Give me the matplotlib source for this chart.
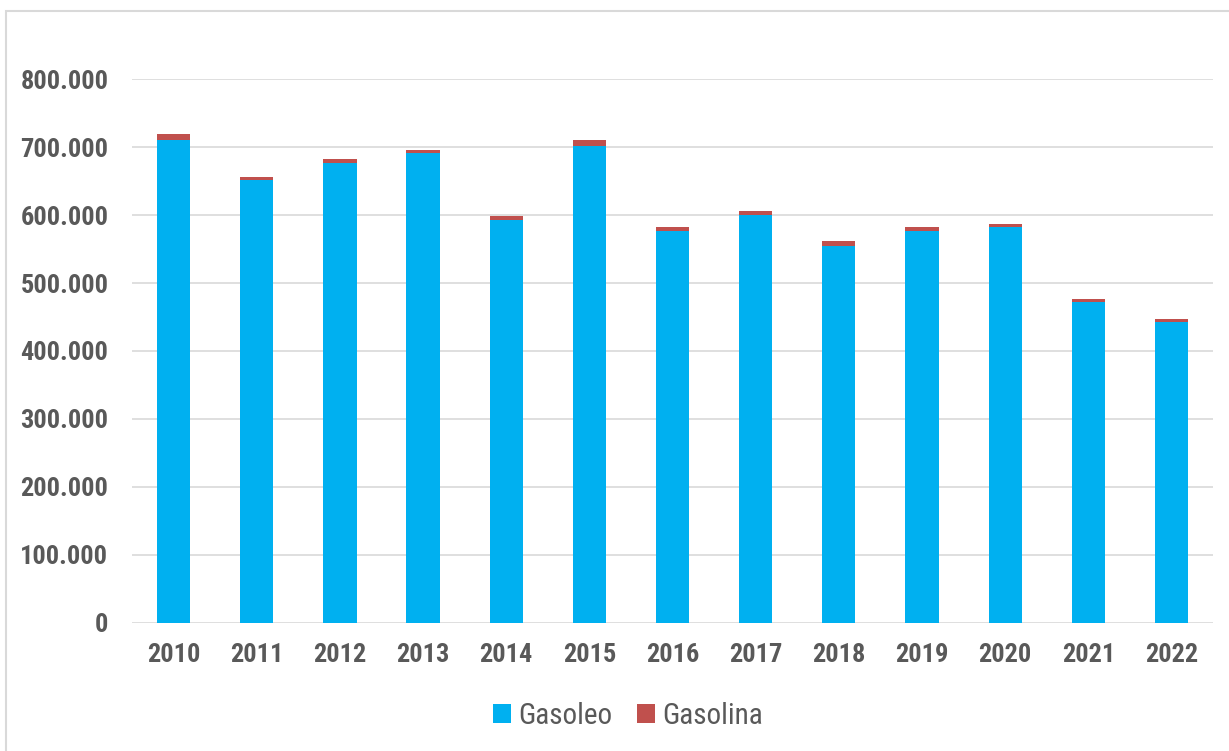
import numpy as np
import matplotlib
matplotlib.use('Agg')
import matplotlib.pyplot as plt
from matplotlib.patches import Rectangle
from matplotlib.ticker import FuncFormatter

years = ['2010', '2011', '2012', '2013', '2014', '2015', '2016',
         '2017', '2018', '2019', '2020', '2021', '2022']
gasoleo = [711000, 651000, 677000, 692000, 593000, 702000, 576000,
           600000, 555000, 577000, 583000, 472000, 443000]
gasolina = [8000, 4500, 6000, 3500, 5500, 8000, 6000,
            6000, 6500, 5500, 4000, 4000, 3500]

plt.rcParams['font.family'] = ['Roboto Condensed', 'Roboto', 'DejaVu Sans']
gray_txt = '#595959'

fig = plt.figure(figsize=(12.29, 7.51), dpi=100)
ax = fig.add_axes([0.1074, 0.1711, 0.8796, 0.7233])

# outer chart border
fig.patches.append(Rectangle((6 / 1229, -0.05), 1.1, 1 - 11 / 751 + 0.05,
                             transform=fig.transFigure, fill=False,
                             edgecolor='#D9D9D9', linewidth=1.5))

x = np.arange(len(years))
b1 = ax.bar(x, gasoleo, width=0.4, color='#00B0F0', label='Gasoleo', zorder=3)
b2 = ax.bar(x, gasolina, width=0.4, bottom=gasoleo, color='#C0504D',
            label='Gasolina', zorder=3)

ax.set_xlim(-0.5, len(years) - 0.5)
ax.set_ylim(0, 800000)
ax.set_yticks(np.arange(0, 800001, 100000))
ax.yaxis.set_major_formatter(FuncFormatter(lambda v, p: f'{int(v):,}'.replace(',', '.')))
ax.set_xticks(x)
ax.set_xticklabels(years)

ax.grid(axis='y', color='#D9D9D9', linewidth=1.2, zorder=0)
for s in ax.spines.values():
    s.set_visible(False)
ax.tick_params(axis='both', length=0, labelsize=19, labelcolor=gray_txt)
ax.tick_params(axis='y', pad=17)
ax.tick_params(axis='x', pad=15)
for lab in ax.get_xticklabels() + ax.get_yticklabels():
    lab.set_fontweight('bold')

fig.legend(handles=[b1, b2], labels=['Gasoleo', 'Gasolina'], loc='center',
           bbox_to_anchor=(0.511, 0.047), ncol=2, frameon=False,
           fontsize=21, labelcolor=gray_txt, handlelength=0.6,
           handleheight=0.6, handletextpad=0.25, columnspacing=0.85)

plt.savefig('out.png', dpi=100)
